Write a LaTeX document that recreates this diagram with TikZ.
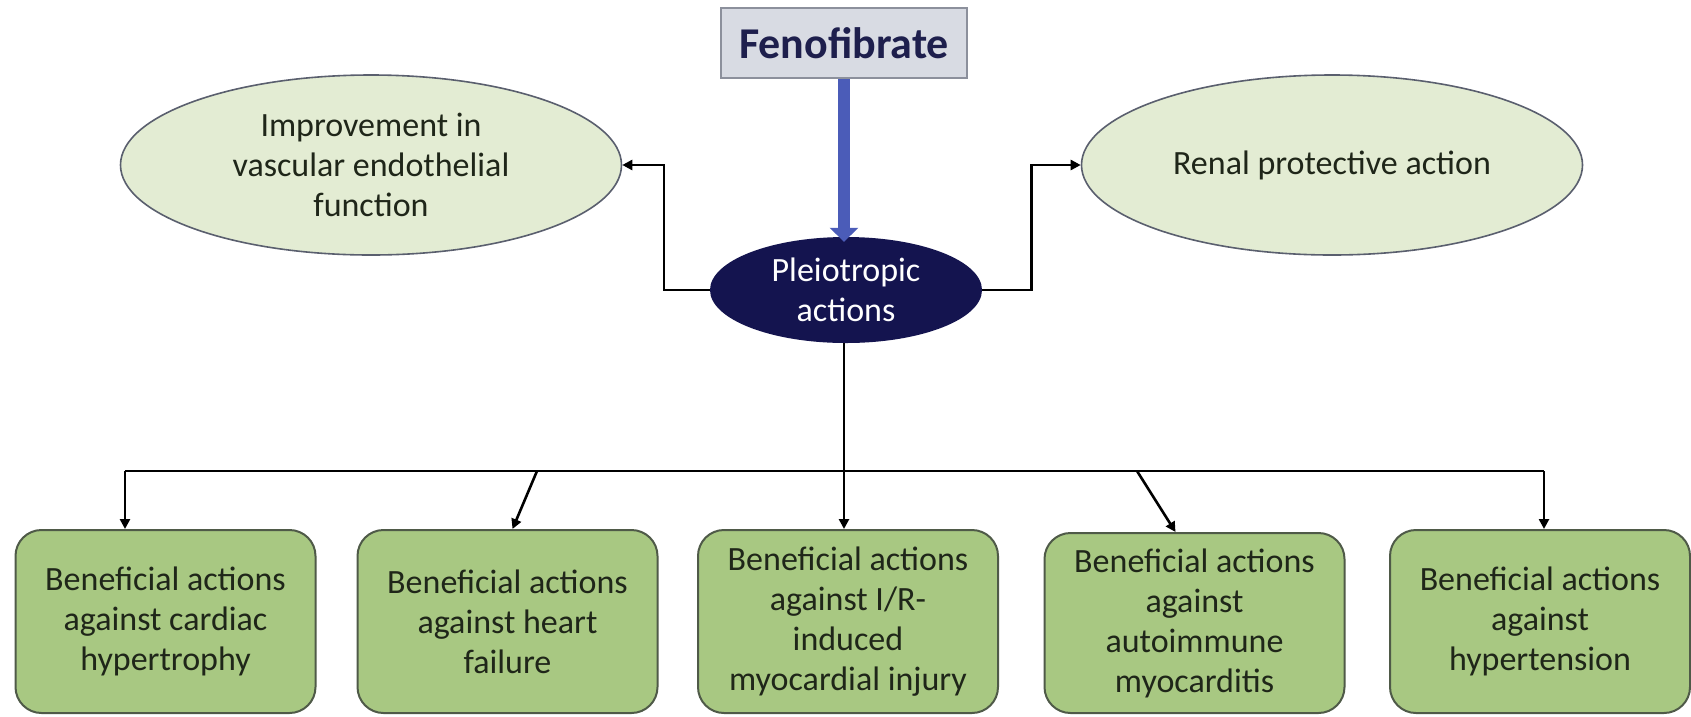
\documentclass[tikz,border=0pt]{standalone}
\usepackage{fontspec}
\setmainfont{Carlito}
\usetikzlibrary{arrows.meta,shapes.geometric,calc}
\definecolor{boxgreen}{HTML}{A8C882}
\definecolor{boxedge}{HTML}{4F5A48}
\definecolor{ellfill}{HTML}{E3ECD3}
\definecolor{elledge}{HTML}{5A5F6E}
\definecolor{navy}{HTML}{14144F}
\definecolor{fenofill}{HTML}{D8DBE3}
\definecolor{fenoedge}{HTML}{8C909C}
\definecolor{fenotext}{HTML}{1E1F4D}
\definecolor{bluearrow}{HTML}{4B5CB8}
\definecolor{txt}{HTML}{1F2619}
\tikzset{
  x=1pt, y=-1pt,
  benefit/.style={draw=boxedge, line width=2pt, fill=boxgreen, rounded corners=26pt,
    minimum width=300pt, minimum height=183pt, inner sep=0pt, align=center,
    text=txt, font=\fontsize{34}{40}\selectfont},
  effect/.style={ellipse, draw=elledge, line width=1.6pt, fill=ellfill,
    minimum width=501pt, minimum height=180pt, inner sep=0pt, align=center,
    text=txt, font=\fontsize{34}{40}\selectfont},
  conn/.style={draw=black, line width=2.6pt, -{Triangle[width=10pt,length=10pt]}},
  plain/.style={draw=black, line width=2.6pt}
}
\begin{document}
\begin{tikzpicture}
\useasboundingbox (0,0) rectangle (1691,716);
\fill[white] (0,0) rectangle (1691,716);

\node[draw=fenoedge, line width=2pt, fill=fenofill, minimum width=246pt, minimum height=70pt,
  inner sep=0pt, text=fenotext, font=\fontsize{44}{50}\selectfont\bfseries] (feno) at (844,43) {Fenofibrate};

\node[effect] (imp) at (371,165) {Improvement in\\vascular endothelial\\function};
\node[effect] (ren) at (1332,165) {Renal protective action};

\node[ellipse, fill=navy, minimum width=272pt, minimum height=106pt, inner sep=0pt, align=center,
  text=white, font=\fontsize{34}{40}\selectfont] (pleio) at (846,290) {Pleiotropic\\actions};

\draw[draw=bluearrow, line width=12pt, -{Triangle[width=28pt,length=14pt]}] (feno.south) -- ($(pleio.north)+(-2,5)$);

\draw[conn] (pleio.west) -- ++(-46,0) |- (imp.east);
\draw[conn] (pleio.east) -- ++(49,0) |- (ren.west);

\node[benefit] (b1) at (165.5,621.5) {Beneficial actions\\against cardiac\\hypertrophy};
\node[benefit] (b2) at (507.5,621.5) {Beneficial actions\\against heart\\failure};
\node[benefit] (b3) at (848,621.5) {Beneficial actions\\against I/R-\\induced\\myocardial injury};
\node[benefit, minimum height=180pt] (b4) at (1194.5,623) {Beneficial actions\\against\\autoimmune\\myocarditis};
\node[benefit] (b5) at (1540,621.5) {Beneficial actions\\against\\hypertension};

\coordinate (hub) at (844,471);
\coordinate (l1) at (125,471);
\coordinate (l2) at (537,471);
\coordinate (l4) at (1137,471);
\coordinate (l5) at (1544,471);

\draw[plain] (pleio.south -| hub) -- (hub);
\draw[plain] (l1) -- (l5);
\draw[conn] (l1) -- (l1 |- b1.north);
\draw[conn] (l2) -- ($(b2.north)+(5,0)$);
\draw[conn] (hub) -- (hub |- b3.north);
\draw[conn] (l4) -- ($(b4.north)+(-19,0)$);
\draw[conn] (l5) -- (l5 |- b5.north);
\end{tikzpicture}
\end{document}
